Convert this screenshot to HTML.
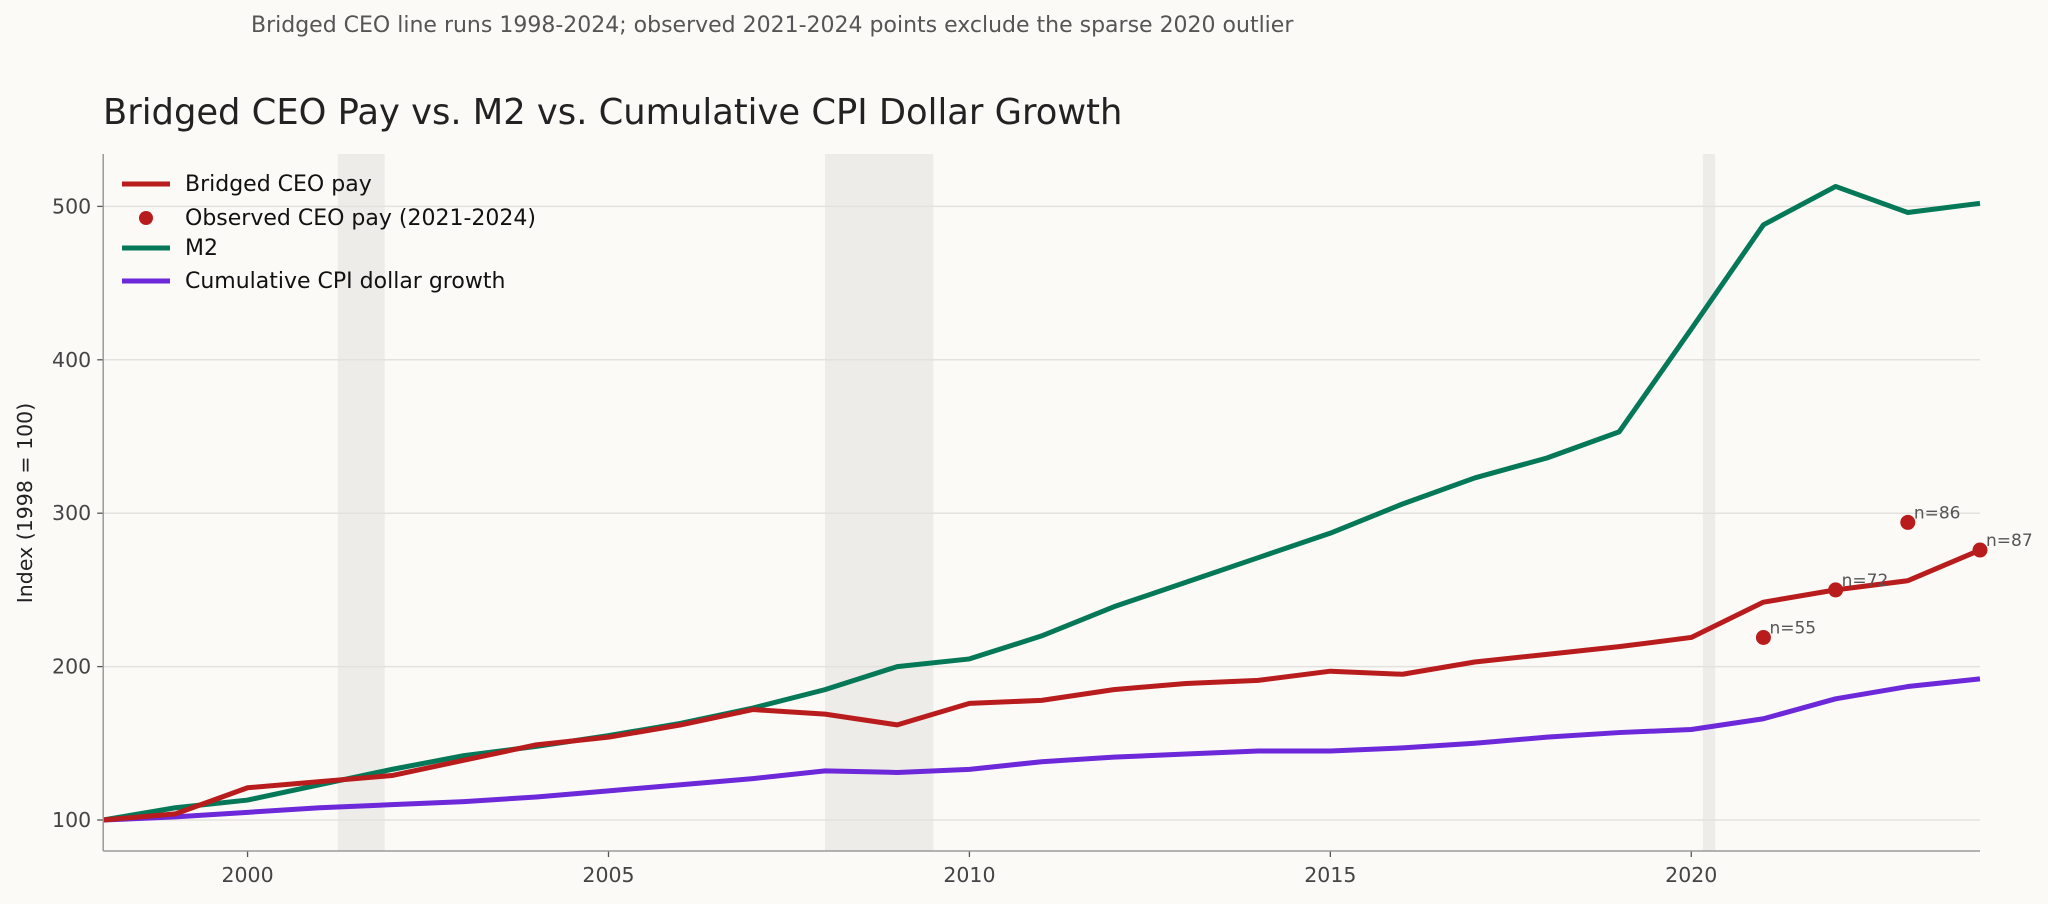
<!DOCTYPE html>
<html><head><meta charset="utf-8"><style>
html,body{margin:0;padding:0;background:#fbfaf7;}
svg{display:block;font-family:"DejaVu Sans","Liberation Sans",sans-serif;}
</style></head><body>
<svg id="chart" width="2048" height="904" viewBox="0 0 2048 904" xmlns="http://www.w3.org/2000/svg">
<rect width="2048" height="904" fill="#fbfaf7"/>
<text x="251" y="32" font-size="22" fill="#555">Bridged CEO line runs 1998-2024; observed 2021-2024 points exclude the sparse 2020 outlier</text>
<text x="103" y="124" font-size="35.3" fill="#222">Bridged CEO Pay vs. M2 vs. Cumulative CPI Dollar Growth</text>
<g id="shades"></g>
<g id="grid"></g>
<g id="series"></g>
<g id="axes"></g>
<text transform="translate(32,503) rotate(-90)" text-anchor="middle" font-size="20.5" fill="#222">Index (1998 = 100)</text>
<g id="legend"></g>
</svg>
<script>
const years = [1998,1999,2000,2001,2002,2003,2004,2005,2006,2007,2008,2009,2010,2011,2012,2013,2014,2015,2016,2017,2018,2019,2020,2021,2022,2023,2024];
const ceoPay = [100,104,121,125,129,139,149,154,162,172,169,162,176,178,185,189,191,197,195,203,208,213,219,242,250,256,276];
const m2 = [100,108,113,123,133,142,148,155,163,173,185,200,205,220,239,255,271,287,306,323,336,353,420,488,513,496,502];
const cpi = [100,102,105,108,110,112,115,119,123,127,132,131,133,138,141,143,145,145,147,150,154,157,159,166,179,187,192];
const obsYears = [2021,2022,2023,2024];
const obsValues = [219,250,294,276];
const obsLabels = ["n=55","n=72","n=86","n=87"];
const yTicks = [100,200,300,400,500];
const xTicks = [2000,2005,2010,2015,2020];
const recessions = [[2001.25,2001.9],[2008.0,2009.5],[2020.16,2020.33]];

const NS="http://www.w3.org/2000/svg";
const L=103.2, R=1980, T=154, B=851;
const x = v => L + (v-1998)*(R-L)/26;
const y = v => 820 - (v-100)*1.534;
function mk(tag, attrs, parent){const e=document.createElementNS(NS,tag);for(const k in attrs)e.setAttribute(k,attrs[k]);document.getElementById(parent).appendChild(e);return e;}

recessions.forEach((r,i)=>{
  const e=mk('rect',{x:x(r[0]),y:T,width:x(r[1])-x(r[0]),height:B-T,fill:'#edece8'},'shades');
  
  
});
yTicks.forEach(t=>{
  const g=mk('line',{x1:L,x2:R,y1:y(t),y2:y(t),stroke:'#e3e2de','stroke-width':1.5},'grid');
  
  
  mk('line',{x1:L-6,x2:L,y1:y(t),y2:y(t),stroke:'#555','stroke-width':1.3},'axes');
  const tx=mk('text',{x:L-12,y:y(t)+7,'text-anchor':'end','font-size':20.5,fill:'#444'},'axes');
  tx.textContent=t;
  
  
});
xTicks.forEach(t=>{
  mk('line',{x1:x(t),x2:x(t),y1:B,y2:B+6,stroke:'#555','stroke-width':1.3},'axes');
  const tx=mk('text',{x:x(t),y:B+31,'text-anchor':'middle','font-size':20.5,fill:'#444'},'axes');
  tx.textContent=t;
  
  
});
mk('line',{x1:L,x2:L,y1:T,y2:B,stroke:'#999','stroke-width':1.5},'axes');
mk('line',{x1:L,x2:R,y1:B,y2:B,stroke:'#999','stroke-width':1.5},'axes');

function line(vals,color,name){
  const p=mk('polyline',{points:vals.map((v,i)=>x(years[i])+','+y(v)).join(' '),fill:'none',stroke:color,'stroke-width':5,'stroke-linejoin':'round'},'series');
  
  
}
line(m2,'#047857','m2-line');
line(cpi,'#6d28d9','cpi-line');
line(ceoPay,'#b91c1c','ceo-pay-line');
obsYears.forEach((yr,i)=>{
  const c=mk('circle',{cx:x(yr),cy:y(obsValues[i]),r:7.5,fill:'#b91c1c'},'series');
  
  
  const t=mk('text',{x:x(yr)+6,y:y(obsValues[i])-4,'font-size':17,fill:'#555'},'series');
  t.textContent=obsLabels[i];
  
  
});

const leg=[['Bridged CEO pay','#b91c1c','line'],['Observed CEO pay (2021-2024)','#b91c1c','dot'],['M2','#047857','line'],['Cumulative CPI dollar growth','#6d28d9','line']];
const legY=[184,218,248,281];
leg.forEach((e,i)=>{
  const yy=legY[i];
  if(e[2]==='line'){mk('line',{x1:122,x2:170,y1:yy,y2:yy,stroke:e[1],'stroke-width':5},'legend');}
  else{mk('circle',{cx:146,cy:yy,r:7,fill:e[1]},'legend');}
  const t=mk('text',{x:185,y:yy+7,'font-size':22,fill:'#111'},'legend');
  t.textContent=e[0];
  
  
});
</script>
</body></html>
